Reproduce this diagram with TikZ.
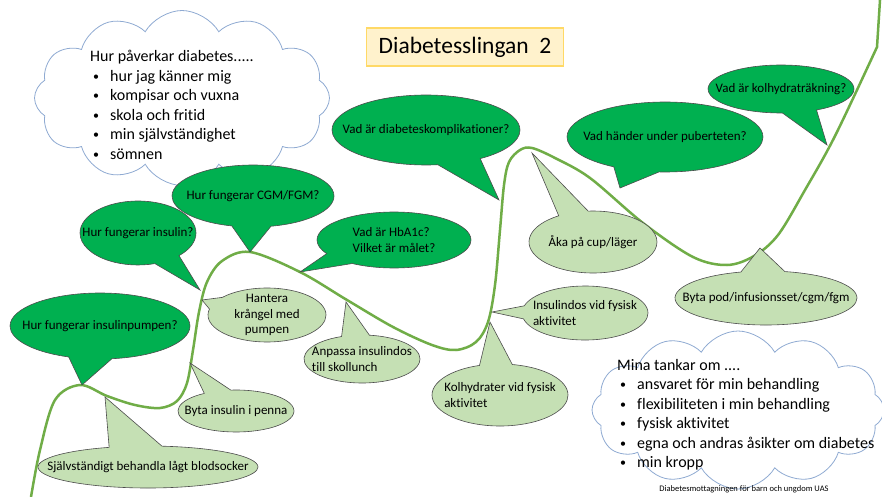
\documentclass[tikz,border=0pt]{standalone}
\usepackage{fontspec}
\setmainfont{Carlito}[Ligatures=NoCommon]
\usetikzlibrary{shapes.callouts,shapes.symbols}

\definecolor{slinga}{RGB}{112,173,71}
\definecolor{morkgron}{RGB}{0,176,80}
\definecolor{ljusgron}{RGB}{197,224,180}
\definecolor{molnbla}{RGB}{143,170,210}
\definecolor{rubrikfyll}{RGB}{255,242,204}
\definecolor{rubrikram}{RGB}{255,217,102}

\tikzset{
	bubbla/.style={ellipse callout, draw=black!70, line width=0.6pt, inner sep=-300pt, callout pointer arc=28, font=\fontsize{13}{15.5}\selectfont},
	fraga/.style={bubbla, fill=morkgron, align=left},
	vardag/.style={bubbla, fill=ljusgron},
	moln/.style={cloud, cloud puffs=12, cloud puff arc=120, cloud ignores aspect, draw=molnbla, line width=0.8pt, fill=white},
	lista/.style={align=left, anchor=north west, inner sep=0pt, font=\fontsize{16}{19.5}\selectfont},
}
\newcommand{\punkt}{\hspace*{3pt}\makebox[17pt][l]{\raisebox{1pt}{\fontsize{12}{12}\selectfont\textbullet}}}

\begin{document}
\begin{tikzpicture}[x=1pt,y=-1pt]
	\useasboundingbox (0,0) rectangle (882,497);
	\clip (0,0) rectangle (882,497);
	\fill[white] (0,0) rectangle (882,497);

	% molnen
	\node[moln, minimum width=295pt, minimum height=175pt] (oro) at (182,98) {};
	\node[lista] (orolista) at (90,50) {Hur påverkar diabetes.....\\
		\punkt hur jag känner mig\\
		\punkt kompisar och vuxna\\
		\punkt skola och fritid\\
		\punkt min självständighet\\
		\punkt sömnen};
	\node[moln, minimum width=292pt, minimum height=158pt] (tankar) at (738,410) {};
	\node[lista] (tankarlista) at (617,359) {Mina tankar om ....\\
		\punkt ansvaret för min behandling\\
		\punkt flexibiliteten i min behandling\\
		\punkt fysisk aktivitet\\
		\punkt egna och andras åsikter om diabetes\\
		\punkt min kropp};

	\node[draw=rubrikram, fill=rubrikfyll, line width=1.5pt, minimum width=197pt, minimum height=38pt, font=\fontsize{23.5}{28}\selectfont] (rubrik) at (465,47) {Diabetesslingan~~2};

	% slingan
	\draw[slinga, line width=2.5pt, line cap=round] plot[smooth, tension=0.55] coordinates {
		(31,497) (40,450) (55,400) (80,385) (107,396) (135,405) (160,408) (177,401)
		(187,383) (193,350) (199,312) (207,282) (222,261) (250,252) (300,272) (347,300)
		(393,327) (432,345) (456,350) (476,342) (488,322) (495,285) (500,230) (504,185)
		(509,162) (520,150) (532,148) (555,158) (590,178) (643,223) (693,257) (727,265)
		(754,256) (778,235) (805,190) (835,136) (877,47)} -- (880,0);

	% fragor
	\foreach \x/\y/\w/\h/\px/\py/\txt [count=\i] in {
		100/326/180/66/82/385/{Hur fungerar insulinpumpen?},
		138/233/116/64/200/290/{Hur fungerar insulin?},
		253/196/162/62/250/252/{Hur fungerar CGM/FGM?},
		394/240/154/56/300/272/{Vad är HbA1c?\\Vilket är målet?},
		426/130/188/70/499/200/{Vad är diabeteskomplikationer?},
		665/137/196/70/620/188/{Vad händer under puberteten?},
		781/89/146/48/827/145/{Vad är kolhydraträkning?}} {
		\node[fraga, minimum width=\w pt, minimum height=\h pt, callout absolute pointer={(\px,\py)}] (fraga\i) at (\x,\y) {\txt};
	}

	% vardagen
	\foreach \x/\y/\w/\h/\px/\py/\al/\txt [count=\i] in {
		267/315/118/54/202/300/center/{Hantera\\krångel med\\pumpen},
		362/359/116/48/346/302/left/{Anpassa insulindos\\till skollunch},
		236/411/116/42/190/363/left/{Byta insulin i penna},
		148/467/220/42/105/397/left/{Självständigt behandla lågt blodsocker},
		500/395/136/62/490/322/left/{Kolhydrater vid fysisk\\aktivitet},
		585/313/126/54/492/312/left/{Insulindos vid fysisk\\aktivitet},
		593/242/128/62/532/153/left/{Åka på cup/läger},
		766/298/182/54/760/248/left/{Byta pod/infusionsset/cgm/fgm}} {
		\node[vardag, align=\al, minimum width=\w pt, minimum height=\h pt, callout absolute pointer={(\px,\py)}] (vardag\i) at (\x,\y) {\txt};
	}

	\node[font=\fontsize{8.5}{10}\selectfont, inner sep=0pt] (kalla) at (744,489) {Diabetesmottagningen för barn och ungdom UAS};
\end{tikzpicture}
\end{document}
